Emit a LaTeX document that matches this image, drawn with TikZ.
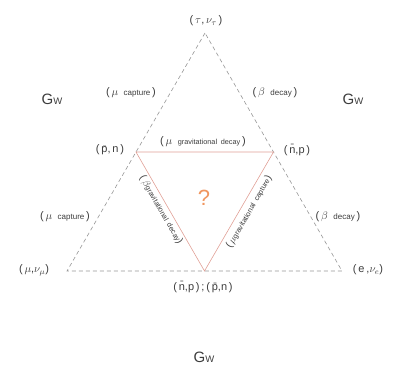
\documentclass[tikz,border=0pt]{standalone}
\usepackage{fontspec}
\setmainfont{Liberation Sans}
\definecolor{dashgray}{RGB}{150,150,150}
\definecolor{pinkline}{RGB}{225,160,150}
\definecolor{qorange}{RGB}{240,150,95}
\definecolor{txt}{RGB}{60,60,60}
\newcommand{\smtxt}[1]{{\fontsize{8}{9}\selectfont #1}}
\newcommand{\tntxt}[1]{{\fontsize{7.3}{8}\selectfont #1}}
\newcommand{\gwlabel}{{\fontsize{15}{15}\selectfont G}{\fontsize{9.5}{10}\selectfont W}}
\begin{document}
\begin{tikzpicture}[x=1pt,y=-1pt,
  outer/.style={draw=dashgray, dash pattern=on 4pt off 3pt, line width=0.6pt},
  inner/.style={draw=pinkline, line width=0.6pt},
  lbl/.style={inner sep=0pt, text=txt, font=\fontsize{11}{12}\selectfont},
  gw/.style={inner sep=0pt, text=txt},
  rot/.style={inner sep=0pt, text=txt, font=\fontsize{10}{11}\selectfont}]
\useasboundingbox (0,0) rectangle (393,365);
% outer vertices
\coordinate (T) at (205,33);
\coordinate (L) at (67,271);
\coordinate (R) at (342,271);
% inner vertices (midpoints)
\coordinate (ML) at (136,152);
\coordinate (MR) at (273.5,152);
\coordinate (MB) at (204.5,271);
% outer dashed triangle
\draw[outer] (T) -- (L) -- (R) -- cycle;
% inner triangle
\draw[inner] (ML) -- (MR) -- (MB) -- cycle;
% vertex labels
\node[lbl] (tau) at (206,21) {(\,$\tau$,\,$\nu_\tau$\,)};
\node[lbl] (mu) at (34,270) {(\,$\mu$,$\nu_\mu$)};
\node[lbl] (e) at (368,270) {(\,e\,,$\nu_e$)};
\node[lbl] (pn) at (110,150) {(\,\={p},\,n\,)};
\node[lbl] (np) at (297,150) {(\,\={n},p\,)};
\node[lbl] (bot) at (203,287) {(\,\={n},p\,)\,;\,(\,\={p},n\,)};
% process labels
\node[lbl] (mucapA) at (131,93) {(\,$\mu$\enspace\smtxt{capture}\,)};
\node[lbl] (bdecA) at (275,93) {(\,$\beta$\enspace\smtxt{decay}\,)};
\node[lbl] (mucapB) at (65,217) {(\,$\mu$\enspace\smtxt{capture}\,)};
\node[lbl] (bdecB) at (338,217) {(\,$\beta$\enspace\smtxt{decay}\,)};
\node[lbl] (mugd) at (203,142) {(\,$\mu$\enspace\tntxt{gravitational\enspace decay}\,)};
\node[rot, rotate=-60] (bgd) at (161,210) {(\,$\beta$\tntxt{gravitational\enspace decay})};
\node[rot, rotate=60] (mugc) at (249,212) {(\,$\mu$\tntxt{gravitational\enspace capture})};
% question mark
\node[inner sep=0pt, text=qorange, font=\fontsize{22}{24}\selectfont] (q) at (204,198) {?};
% G_W labels
\node[gw] (gwL) at (52,99) {\gwlabel};
\node[gw] (gwR) at (353,99) {\gwlabel};
\node[gw] (gwB) at (204,357) {\gwlabel};
\end{tikzpicture}
\end{document}
